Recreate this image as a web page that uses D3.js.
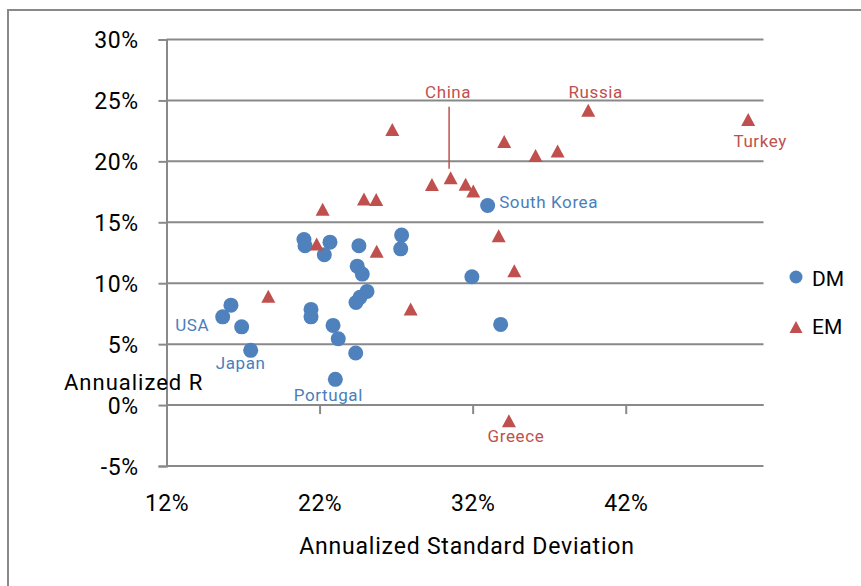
<!DOCTYPE html>
<html>
<head>
<meta charset="utf-8">
<script src="https://d3js.org/d3.v7.min.js"></script>
<style>
  body { margin: 0; background: #fff; }
  text { font-family: Roboto, "DejaVu Sans", sans-serif; }
</style>
</head>
<body>
<div id="chart"></div>
<script>
// developed markets: std dev, return
var dmRisk = [0.2098, 0.2105, 0.2268, 0.2457, 0.2231, 0.2736, 0.2730, 0.2446, 0.2479,
              0.2510, 0.2464, 0.2438, 0.1621, 0.1567, 0.1691, 0.2144, 0.2144, 0.2288,
              0.2322, 0.2436, 0.1750, 0.2303, 0.3298, 0.3195, 0.3383];
var dmReturn = [0.1359, 0.1307, 0.1337, 0.1307, 0.1233, 0.1395, 0.1282, 0.1140, 0.1075,
                0.0933, 0.0884, 0.0842, 0.0820, 0.0724, 0.0642, 0.0785, 0.0724, 0.0654,
                0.0544, 0.0427, 0.0449, 0.0211, 0.1638, 0.1053, 0.0662];
var dmNames = ["", "", "", "", "", "", "", "", "",
               "", "", "", "", "USA", "", "", "", "",
               "", "", "Japan", "Portugal", "South Korea", "", ""];

// emerging markets
var emRisk = [0.2220, 0.2490, 0.2570, 0.2181, 0.2573, 0.1865, 0.2795, 0.2675, 0.3406,
              0.3611, 0.3755, 0.2934, 0.3056, 0.3154, 0.3204, 0.3370, 0.3472, 0.3955,
              0.5000, 0.3437];
var emReturn = [0.1608, 0.1692, 0.1687, 0.1321, 0.1263, 0.0894, 0.0788, 0.2262, 0.2163,
                0.2048, 0.2086, 0.1810, 0.1865, 0.1813, 0.1756, 0.1389, 0.1102, 0.2420,
                0.2344, -0.0129];
var emNames = ["", "", "", "", "", "", "", "", "",
               "", "", "", "China", "", "", "", "", "Russia",
               "Turkey", "Greece"];

var xTicks = [0.12, 0.22, 0.32, 0.42];
var yTicks = [-0.05, 0, 0.05, 0.10, 0.15, 0.20, 0.25, 0.30];

var blue = "#4f81bd", red = "#c0504d", grid = "#898989";

var width = 861, height = 586;

var svg = d3.select("#chart")
    .append("svg")
    .attr("width", width)
    .attr("height", height);

// outer chart frame
svg.append("path")
    .attr("d", "M8," + height + "V10H" + width)
    .style("fill", "none")
    .style("stroke", grid)
    .style("stroke-width", 2);

var x = d3.scaleLinear().domain([0.12, 0.51]).range([166.5, 763.5]);
var y = d3.scaleLinear().domain([-0.05, 0.30]).range([466, 39.5]);
// plain hyphen for negatives, like the original
var pct = function(d) { return Math.round(d * 100) + "%"; };

// horizontal gridlines
svg.append("g")
    .selectAll("line")
    .data(yTicks)
    .enter().append("line")
    .attr("x1", x.range()[0])
    .attr("x2", x.range()[1])
    .attr("y1", function(d) { return y(d); })
    .attr("y2", function(d) { return y(d); })
    .style("stroke", grid)
    .style("stroke-width", 2);

// y axis
var yAxis = svg.append("g")
    .attr("transform", "translate(" + x.range()[0] + ",0)")
    .call(d3.axisLeft(y).tickValues(yTicks).tickFormat(pct).tickSize(8).tickPadding(20));

// x axis crossing at 0%
var xAxis = svg.append("g")
    .attr("transform", "translate(0," + y(0) + ")")
    .call(d3.axisBottom(x).tickValues(xTicks).tickFormat(pct).tickSize(9).tickSizeOuter(0));

[yAxis, xAxis].forEach(function(a) {
  a.select(".domain").style("stroke", grid).style("stroke-width", 2);
  a.selectAll(".tick line").style("stroke", grid).style("stroke-width", 2);
  a.selectAll("text")
    .style("font-size", "23px")
    .style("fill", "#000")
    .style("letter-spacing", "0.5px");
});
xAxis.select(".domain").attr("d", "M" + x.range()[0] + ",0H" + x.range()[1]);
xAxis.selectAll(".tick").filter(function(d) { return d === 0.12; }).select("line").remove();
// x tick labels sit below the chart, not under the 0% line
xAxis.selectAll(".tick text")
    .attr("y", 0)
    .attr("dy", 0)
    .attr("transform", "translate(0," + (511 - y(0)) + ")");
yAxis.selectAll(".tick text").attr("dy", "0.36em");

// axis titles
svg.append("text")
    .attr("x", 467)
    .attr("y", 554)
    .attr("text-anchor", "middle")
    .style("font-size", "23px")
    .style("letter-spacing", "0.8px")
    .text("Annualized Standard Deviation");

svg.append("text")
    .attr("x", 64)
    .attr("y", 390)
    .style("font-size", "22px")
    .style("letter-spacing", "1px")
    .text("Annualized R");

var triangle = "M0,-6.5L7,6.5L-7,6.5Z";

var dm = dmRisk.map(function(d, i) { return {x: d, y: dmReturn[i], name: dmNames[i]}; });
var em = emRisk.map(function(d, i) { return {x: d, y: emReturn[i], name: emNames[i]}; });

svg.append("g")
    .selectAll("circle")
    .data(dm)
    .enter().append("circle")
    .attr("cx", function(d) { return x(d.x); })
    .attr("cy", function(d) { return y(d.y); })
    .attr("r", 7.5)
    .style("fill", blue);

svg.append("g")
    .selectAll("path")
    .data(em)
    .enter().append("path")
    .attr("d", triangle)
    .attr("transform", function(d) { return "translate(" + x(d.x) + "," + y(d.y) + ")"; })
    .style("fill", red);

// label placement: [dx, dy, anchor]
var labelPos = {
  "USA": [-13.5, 14, "end"],
  "Japan": [-10, 19, "middle"],
  "Portugal": [-7, 22, "middle"],
  "South Korea": [11.5, 3, "start"],
  "China": [-2.5, -79.5, "middle"],
  "Russia": [7.5, -12, "middle"],
  "Turkey": [12, 27.5, "middle"],
  "Greece": [7, 21, "middle"]
};

function addLabels(data, color) {
  svg.append("g")
    .selectAll("text")
    .data(data.filter(function(d) { return d.name; }))
    .enter().append("text")
    .attr("x", function(d) { return x(d.x) + labelPos[d.name][0]; })
    .attr("y", function(d) { return y(d.y) + labelPos[d.name][1]; })
    .attr("text-anchor", function(d) { return labelPos[d.name][2]; })
    .style("font-size", "17px")
    .style("letter-spacing", "0.6px")
    .style("fill", color)
    .text(function(d) { return d.name; });
}
addLabels(dm, "#4a7ebb");
addLabels(em, red);

// leader line for China
var china = em.filter(function(d) { return d.name === "China"; })[0];
svg.append("line")
    .attr("x1", x(china.x) - 1.5)
    .attr("x2", x(china.x) - 1.5)
    .attr("y1", y(china.y) - 71)
    .attr("y2", y(china.y) - 9)
    .style("stroke", red)
    .style("stroke-width", 1.5);

// legend
var legend = svg.append("g").attr("transform", "translate(796,0)");
legend.append("circle")
    .attr("cx", 0).attr("cy", 277).attr("r", 6.5)
    .style("fill", blue);
legend.append("path")
    .attr("d", "M0,-6L6.5,6L-6.5,6Z")
    .attr("transform", "translate(0,327)")
    .style("fill", red);
legend.selectAll("text")
    .data(["DM", "EM"])
    .enter().append("text")
    .attr("x", 16)
    .attr("y", function(d, i) { return 285.5 + i * 48; })
    .style("font-size", "21px")
    .text(function(d) { return d; });
</script>
</body>
</html>
